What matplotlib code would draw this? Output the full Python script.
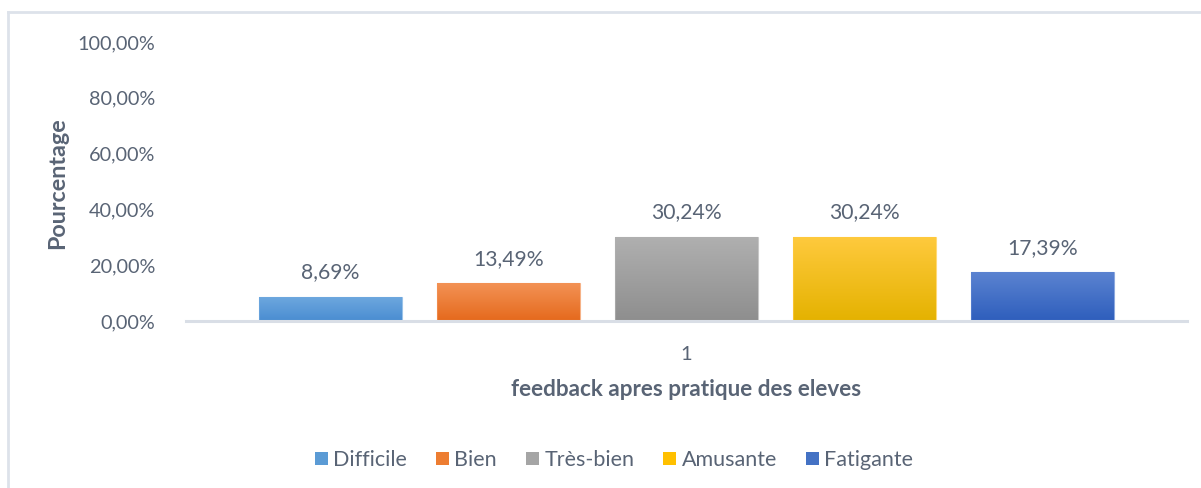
import numpy as np
import matplotlib
matplotlib.use("Agg")
import matplotlib.pyplot as plt
from matplotlib.colors import LinearSegmentedColormap
from matplotlib.patches import Patch
from matplotlib.lines import Line2D

# ---- data ----
categories = ["Difficile", "Bien", "Très-bien", "Amusante", "Fatigante"]
values = [8.69, 13.49, 30.24, 30.24, 17.39]
value_labels = ["8,69%", "13,49%", "30,24%", "30,24%", "17,39%"]
yticks = [0, 20, 40, 60, 80, 100]
ytick_labels = ["0,00%", "20,00%", "40,00%", "60,00%", "80,00%", "100,00%"]
group_label = "1"
xlabel = "feedback apres pratique des eleves"
ylabel = "Pourcentage"

# gradient colours (top, bottom) and legend colours
grad_top = ["#6ea8df", "#f39255", "#b0b0b0", "#ffca3e", "#5b83d1"]
grad_bot = ["#4a8dd1", "#e5691c", "#8e8e8e", "#e4b200", "#2e5ebc"]
legend_colors = ["#5b9bd5", "#ed7d31", "#a5a5a5", "#ffc000", "#4472c4"]

text_color = "#596475"
FONT = ["Lato", "DejaVu Sans"]

W, H = 1201, 488
fig = plt.figure(figsize=(W / 100, H / 100), dpi=100)
fig.patch.set_facecolor("white")

# chart border (top & left visible)
fig.add_artist(Line2D([8 / W, 8 / W], [0, 1 - 12 / H], transform=fig.transFigure,
                      color="#dde2ea", lw=2))
fig.add_artist(Line2D([8 / W, 1], [1 - 12 / H, 1 - 12 / H], transform=fig.transFigure,
                      color="#dde2ea", lw=2))

ax_l, ax_r = 186, 1187
ax_t, ax_b = 42, 321
ax = fig.add_axes([ax_l / W, 1 - ax_b / H, (ax_r - ax_l) / W, (ax_b - ax_t) / H])

step = 178.0
bw = 143.0 / step
n = len(categories)
x = (np.arange(n) - (n - 1) / 2)
half = (ax_r - ax_l) / 2 / step
ax.set_xlim(-half, half)
ax.set_ylim(0, 100)

grad = np.linspace(0, 1, 256).reshape(-1, 1)
bars = ax.bar(x, values, width=bw, color="none", edgecolor="none", zorder=2)
for i, b in enumerate(bars):
    cmap = LinearSegmentedColormap.from_list("g%d" % i, [grad_bot[i], grad_top[i]])
    x0, y0 = b.get_x(), b.get_y()
    w, h = b.get_width(), b.get_height()
    im = ax.imshow(grad, cmap=cmap, aspect="auto", origin="lower",
                   extent=[x0, x0 + w, y0, y0 + h], zorder=2, interpolation="bilinear")
    im.set_clip_path(b)
    ax.add_patch(plt.Rectangle((x0, y0), w, h, fill=False,
                               edgecolor=grad_top[i], lw=0.8, zorder=3, alpha=0.7))
    ax.annotate(value_labels[i], (x[i], values[i]), xytext=(0, 13.5),
                textcoords="offset points", ha="center", va="baseline",
                fontsize=15.2, color=text_color, family=FONT)

ax.set_xlim(-half, half)
ax.set_ylim(0, 100)
ax.axhline(0, color="#d9dee6", lw=2.2, zorder=4, clip_on=False)

for s in ax.spines.values():
    s.set_visible(False)
ax.set_yticks(yticks)
ax.set_yticklabels(ytick_labels, family=FONT, fontsize=14.3, color=text_color)
ax.set_xticks([0])
ax.set_xticklabels([group_label], family=FONT, fontsize=14.5, color=text_color)
ax.tick_params(axis="both", length=0)
ax.tick_params(axis="y", pad=22)
ax.tick_params(axis="x", pad=18)

fig.text(58 / W, 1 - 183 / H, ylabel, rotation=90, ha="center", va="center",
         fontsize=16.8, fontweight="bold", color=text_color, family=FONT)
fig.text(686 / W, 1 - 390 / H, xlabel, ha="center", va="center",
         fontsize=16.2, fontweight="bold", color=text_color, family=FONT)

handles = [Patch(facecolor=c, edgecolor="none") for c in legend_colors]
leg = fig.legend(handles, categories, loc="center", bbox_to_anchor=(614 / W, 1 - 460 / H),
                 ncol=n, frameon=False, handlelength=0.6, handleheight=0.6,
                 handletextpad=0.25, columnspacing=1.35,
                 prop={"family": FONT, "size": 15.5})
for t in leg.get_texts():
    t.set_color(text_color)

fig.savefig("out.png", dpi=100, facecolor="white")
